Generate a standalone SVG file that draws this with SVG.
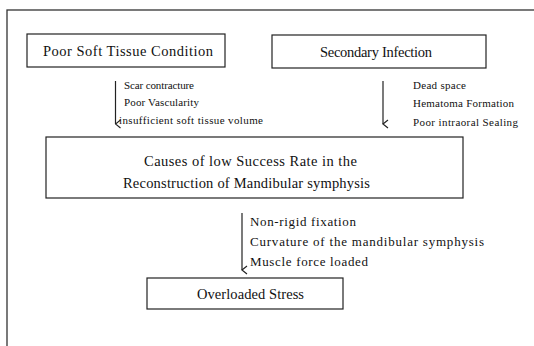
<svg xmlns="http://www.w3.org/2000/svg" width="534" height="346" viewBox="0 0 534 346">
<defs>
<style>
.frame{fill:none;stroke:#333;stroke-width:1.3}
.box{fill:#fff;stroke:#222;stroke-width:1.2}
text{fill:#111}
.big{font-size:14.5px}
.sm{font-size:11px}
.md{font-size:13px}
.c{stroke:#222;stroke-width:1.2;fill:none}
</style>
<marker id="ah" viewBox="0 0 10 10" refX="5" refY="9" markerWidth="10" markerHeight="10" markerUnits="userSpaceOnUse" orient="auto-start-reverse">
<path d="M1,4 L5,9 L9,4" fill="none" stroke="#222" stroke-width="1.2"/>
</marker>
</defs>
<rect width="534" height="346" fill="#fff"/>
<rect class="frame" x="7" y="10" width="560" height="360"/>
<g font-family="'Liberation Serif', 'DejaVu Serif', serif">
<g id="connectors">
<line class="c" x1="115.5" y1="81" x2="115.5" y2="124" marker-end="url(#ah)"/>
<line class="c" x1="383" y1="81" x2="383" y2="124" marker-end="url(#ah)"/>
<line class="c" x1="242" y1="213" x2="242" y2="270" marker-end="url(#ah)"/>
<text class="sm" x="124" y="89" textLength="70" lengthAdjust="spacing">Scar contracture</text>
<text class="sm" x="124" y="106" textLength="75" lengthAdjust="spacing">Poor Vascularity</text>
<text class="sm" x="119" y="124" textLength="144" lengthAdjust="spacing">insufficient soft tissue volume</text>
<text class="sm" x="413" y="89" textLength="53" lengthAdjust="spacing">Dead space</text>
<text class="sm" x="413" y="107" textLength="101" lengthAdjust="spacing">Hematoma Formation</text>
<text class="sm" x="413" y="126" textLength="105" lengthAdjust="spacing">Poor intraoral Sealing</text>
<text class="md" x="250" y="226" textLength="106" lengthAdjust="spacing">Non-rigid fixation</text>
<text class="md" x="250" y="246" textLength="234" lengthAdjust="spacing">Curvature of the mandibular symphysis</text>
<text class="md" x="250" y="266" textLength="118" lengthAdjust="spacing">Muscle force loaded</text>
</g>
<g id="poor-soft-tissue">
<rect class="box" x="27" y="34" width="198" height="33"/>
<text class="big" x="43" y="56" textLength="170" lengthAdjust="spacing">Poor Soft Tissue Condition</text>
</g>
<g id="secondary-infection">
<rect class="box" x="272" y="35" width="214" height="33"/>
<text class="big" x="320" y="57" textLength="112" lengthAdjust="spacing">Secondary Infection</text>
</g>
<g id="causes">
<rect class="box" x="46" y="137" width="417" height="61"/>
<text class="big" x="144" y="166" textLength="213" lengthAdjust="spacing">Causes of low Success Rate in the</text>
<text class="big" x="123" y="188" textLength="247" lengthAdjust="spacing">Reconstruction of Mandibular symphysis</text>
</g>
<g id="overloaded-stress">
<rect class="box" x="147" y="278" width="196" height="31"/>
<text class="big" x="197" y="299" textLength="107" lengthAdjust="spacing">Overloaded Stress</text>
</g>
</g>
</svg>
